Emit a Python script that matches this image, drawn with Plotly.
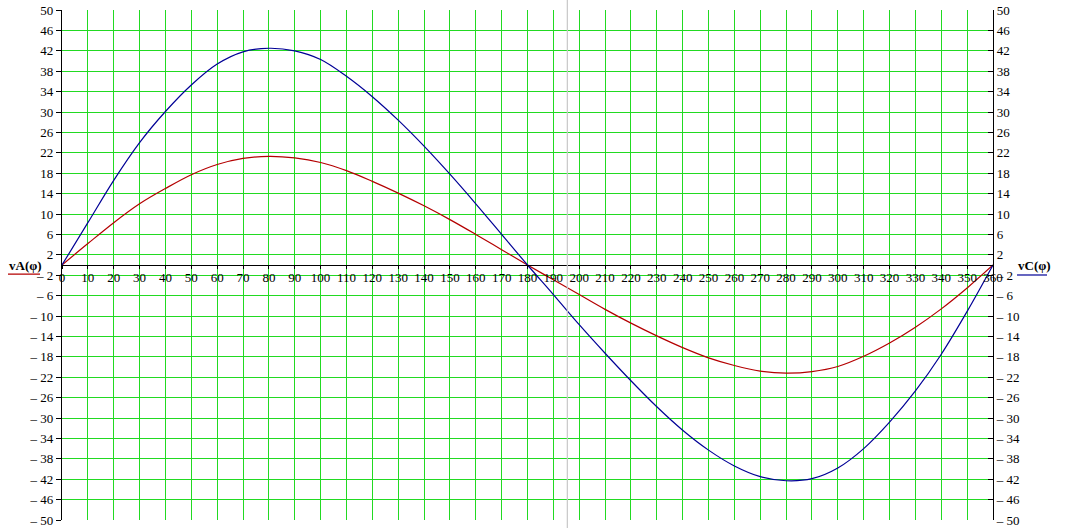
import plotly.graph_objects as go

# ---- data ----
phi = [0, 10, 20, 30, 40, 50, 60, 70, 80, 90, 100, 110, 120, 130, 140, 150, 160, 170, 180,
       190, 200, 210, 220, 230, 240, 250, 260, 270, 280, 290, 300, 310, 320, 330, 340, 350, 360]
vA = [0, 4.2, 8.3, 12.0, 15.0, 17.7, 19.7, 20.9, 21.3, 21.0, 20.1, 18.5, 16.4, 14.1, 11.6, 8.9, 6.0, 3.0, 0,
      -2.9, -5.8, -8.7, -11.4, -13.9, -16.2, -18.2, -19.7, -20.8, -21.2, -20.9, -19.9, -17.9, -15.3, -12.2, -8.6, -4.5, 0]
vC = [0, 8.3, 16.6, 24.0, 30.1, 35.3, 39.4, 41.8, 42.5, 42.0, 40.3, 37.0, 33.0, 28.4, 23.3, 17.8, 12.0, 6.0, 0,
      -5.8, -11.7, -17.3, -22.7, -27.8, -32.4, -36.3, -39.4, -41.5, -42.3, -41.9, -39.8, -36.0, -30.8, -24.7, -17.5, -9.1, 0]

x_ticks = list(range(0, 361, 10))
x_ticktext = [str(v) for v in x_ticks]
y_ticks = [-50, -46, -42, -38, -34, -30, -26, -22, -18, -14, -10, -6, -2,
           2, 6, 10, 14, 18, 22, 26, 30, 34, 38, 42, 46, 50]
y_ticktext = [("– " + str(-v)) if v < 0 else str(v) for v in y_ticks]
cursor_phi = 195.4

FONT = "Liberation Serif"
GRID = "#22DA22"

fig = go.Figure()
fig.add_trace(go.Scatter(x=phi, y=vA, mode="lines", line=dict(color="#B40000", width=1.2, shape="spline", smoothing=1.0),
                         name="vA(φ)", showlegend=False, hoverinfo="skip"))
fig.add_trace(go.Scatter(x=phi, y=vC, mode="lines", line=dict(color="#000096", width=1.2, shape="spline", smoothing=1.0),
                         name="vC(φ)", showlegend=False, yaxis="y2", hoverinfo="skip"))

fig.update_layout(
    width=1081, height=528,
    margin=dict(l=62, r=88, t=10, b=8, autoexpand=False),
    paper_bgcolor="white", plot_bgcolor="white",
    font=dict(family=FONT, size=13, color="black"),
    xaxis=dict(range=[0, 360], tickvals=x_ticks, ticktext=x_ticktext, tickangle=0, automargin=False,
               showgrid=True, gridcolor=GRID, gridwidth=1.4, zeroline=False,
               showline=True, linecolor="black", linewidth=1.2,
               anchor="free", position=0.5, ticks="outside", ticklen=3, tickcolor="black",
               ticklabelstandoff=-3,
               tickfont=dict(family=FONT, size=13, color="black")),
    yaxis=dict(range=[-50, 50], tickvals=y_ticks, ticktext=y_ticktext, automargin=False,
               showgrid=True, gridcolor=GRID, gridwidth=1.4, zeroline=False,
               showline=True, linecolor="black", linewidth=1.2,
               ticks="outside", ticklen=5, tickcolor="black", ticklabeloverflow="allow",
               tickfont=dict(family=FONT, size=13, color="black")),
    yaxis2=dict(range=[-50, 50], tickvals=y_ticks, ticktext=y_ticktext, overlaying="y", side="right",
                automargin=False, ticklabeloverflow="allow",
                showgrid=False, zeroline=False, showline=True, linecolor="black", linewidth=1.2,
                ticks="inside", ticklen=5, tickcolor="black",
                tickfont=dict(family=FONT, size=13, color="black")),
)

# cursor line
fig.add_shape(type="line", xref="x", yref="paper", x0=cursor_phi, x1=cursor_phi, y0=-0.016, y1=1.02,
              line=dict(color="#C8C8C8", width=1.2))

# trace labels
fig.add_annotation(xref="paper", yref="paper", x=-0.0387, y=0.5, text="<b>vA(φ)</b>", showarrow=False,
                   font=dict(family=FONT, size=13, color="black"), xanchor="center", yanchor="middle")
fig.add_shape(type="line", xref="paper", yref="paper", x0=-0.058, x1=-0.0236, y0=0.482, y1=0.482,
              line=dict(color="#B40000", width=1.2))
fig.add_annotation(xref="paper", yref="paper", x=1.045, y=0.5, text="<b>vC(φ)</b>", showarrow=False,
                   font=dict(family=FONT, size=13, color="black"), xanchor="center", yanchor="middle")
fig.add_shape(type="line", xref="paper", yref="paper", x0=1.0258, x1=1.058, y0=0.4804, y1=0.4804,
              line=dict(color="#000096", width=1.2))

# remove the default 8px page margin so the figure sits at the window's top-left corner
fig.write_html("out.html", config={"displayModeBar": False},
               post_script="document.body.style.margin='0';document.body.style.overflow='hidden';")
